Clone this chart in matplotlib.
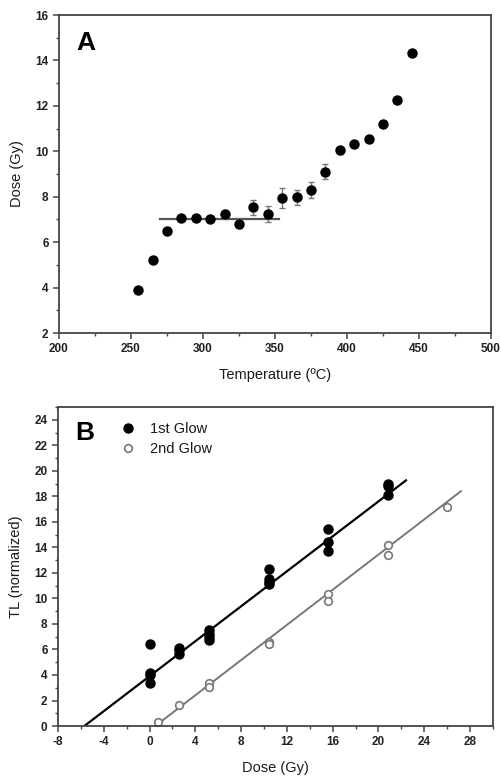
import numpy as np
import matplotlib.pyplot as plt
from matplotlib.ticker import MultipleLocator

plt.rcParams['font.family'] = ['Liberation Sans', 'DejaVu Sans']
plt.rcParams['axes.unicode_minus'] = False

# panel A: dose plateau vs temperature
temp = [255, 265, 275, 285, 295, 305, 315, 325, 335, 345,
        355, 365, 375, 385, 395, 405, 415, 425, 435, 445]
dose_a = [3.89, 5.23, 6.50, 7.05, 7.08, 7.03, 7.23, 6.81, 7.53, 7.23,
          7.94, 7.97, 8.30, 9.10, 10.04, 10.31, 10.56, 11.20, 12.27, 14.32]
dose_err = [0.05, 0.05, 0.05, 0.1, 0.1, 0.1, 0.2, 0.2, 0.33, 0.35,
            0.43, 0.35, 0.34, 0.33, 0.15, 0.1, 0.1, 0.1, 0.1, 0.1]
plateau_x = [270, 353]
plateau_y = [7.03, 7.03]

# panel B: TL vs dose, 1st and 2nd glow
glow1_x = [0, 0, 0, 0, 2.6, 2.6, 2.6, 5.2, 5.2, 5.2, 5.2,
           10.4, 10.4, 10.4, 10.4, 15.6, 15.6, 15.6, 20.8, 20.8, 20.8]
glow1_y = [6.41, 4.17, 4.01, 3.39, 6.15, 5.94, 5.68, 7.56, 7.25, 6.98, 6.78,
           12.33, 11.55, 11.28, 11.10, 15.45, 14.40, 13.70, 18.97, 18.79, 18.14]
glow2_x = [0.7, 2.6, 5.2, 5.2, 10.4, 10.4, 15.6, 15.6, 20.8, 20.8, 26.0]
glow2_y = [0.34, 1.62, 3.34, 3.07, 6.60, 6.40, 10.38, 9.77, 14.15, 13.42, 17.20]
fit1_x = [-5.7, 22.4]
fit1_y = [0.0, 19.25]
fit2_x = [0.5, 27.2]
fit2_y = [0.0, 18.4]

spine_col = '#444444'


def style_axes(ax):
    for s in ax.spines.values():
        s.set_color(spine_col)
        s.set_linewidth(1.3)
    ax.tick_params(which='both', direction='out', color=spine_col, top=False, right=False)
    ax.tick_params(which='major', length=4.5, width=1.1, labelsize=8.5, pad=3)
    ax.tick_params(which='minor', length=2.5, width=1.0)
    for lab in ax.get_xticklabels() + ax.get_yticklabels():
        lab.set_fontweight('bold')
        lab.set_color('#222222')


fig = plt.figure(figsize=(5.02, 7.80), dpi=100)

# ---- panel A
ax1 = fig.add_axes([0.1175, 0.573, 0.8606, 0.4077])
ax1.errorbar(temp, dose_a, yerr=dose_err, fmt='o', color='black', ms=6.5,
             ecolor='#777777', elinewidth=1.0, capsize=2.0, capthick=1.0)
ax1.plot(plateau_x, plateau_y, color='#555555', lw=1.6, zorder=1)
ax1.set_xlim(200, 500)
ax1.set_ylim(2, 16)
ax1.xaxis.set_major_locator(MultipleLocator(50))
ax1.xaxis.set_minor_locator(MultipleLocator(25))
ax1.yaxis.set_major_locator(MultipleLocator(2))
ax1.yaxis.set_minor_locator(MultipleLocator(1))
style_axes(ax1)
ax1.set_xlabel('Temperature (ºC)', fontsize=10.5, color='#1a1a1a', labelpad=9)
ax1.set_ylabel('Dose (Gy)', fontsize=10.5, color='#1a1a1a', labelpad=8)
ax1.text(0.04, 0.95, 'A', transform=ax1.transAxes, fontsize=19, fontweight='bold',
         va='top', ha='left')

# ---- panel B
ax2 = fig.add_axes([0.1155, 0.0692, 0.8665, 0.409])
ax2.plot(fit1_x, fit1_y, color='black', lw=1.6, zorder=1)
ax2.plot(fit2_x, fit2_y, color='#777777', lw=1.4, zorder=1)
ax2.plot(glow1_x, glow1_y, 'o', color='black', ms=6.5, label='1st Glow')
ax2.plot(glow2_x, glow2_y, 'o', mfc='white', mec='#777777', mew=1.2, ms=5.5,
         label='2nd Glow')
ax2.set_xlim(-8, 30)
ax2.set_ylim(0, 25)
ax2.xaxis.set_major_locator(MultipleLocator(4))
ax2.xaxis.set_minor_locator(MultipleLocator(2))
ax2.yaxis.set_major_locator(MultipleLocator(2))
ax2.yaxis.set_minor_locator(MultipleLocator(1))
style_axes(ax2)
ax2.set_xlabel('Dose (Gy)', fontsize=10.5, color='#1a1a1a', labelpad=9)
ax2.set_ylabel('TL (normalized)', fontsize=10.5, color='#1a1a1a', labelpad=8)
ax2.text(0.04, 0.955, 'B', transform=ax2.transAxes, fontsize=19, fontweight='bold',
         va='top', ha='left')
leg = ax2.legend(loc='upper left', bbox_to_anchor=(0.13, 0.972), frameon=False,
                 fontsize=10.5, handlelength=1.0, handletextpad=1.0,
                 labelspacing=0.45, borderaxespad=0)
for t in leg.get_texts():
    t.set_color('#1a1a1a')

fig.savefig('out.png', dpi=100)
